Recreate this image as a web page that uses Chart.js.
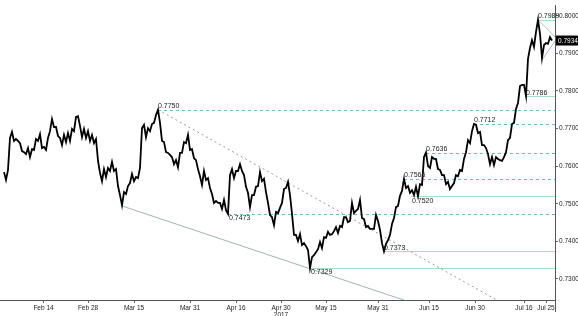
<!DOCTYPE html>
<html><head><meta charset="utf-8">
<script src="https://cdn.jsdelivr.net/npm/chart.js@4/dist/chart.umd.min.js"></script>
<style>html,body{margin:0;padding:0;background:#fff;}#wrap{width:578px;height:316px;}</style>
</head><body><div id="wrap"><canvas id="c" width="578" height="316"></canvas></div>
<script>
// AUD/USD-like price path, one sample every ~half trading day
const prices = [
0.7584,0.7563,0.7590,0.7675,0.7691,0.7667,0.7672,0.7667,0.7661,0.7640,
0.7637,0.7632,0.7648,0.7624,0.7645,0.7643,0.7672,0.7667,0.7685,0.7648,
0.7651,0.7643,0.7675,0.7693,0.7725,0.7704,0.7704,0.7680,0.7675,0.7656,
0.7683,0.7664,0.7688,0.7667,0.7699,0.7693,0.7731,0.7733,0.7707,0.7677,
0.7699,0.7675,0.7693,0.7667,0.7683,0.7661,0.7672,0.7614,0.7582,0.7560,
0.7592,0.7571,0.7595,0.7587,0.7611,0.7587,0.7592,0.7547,0.7523,0.7496,
0.7531,0.7526,0.7547,0.7555,0.7579,0.7560,0.7571,0.7568,0.7595,0.7701,
0.7710,0.7677,0.7701,0.7693,0.7712,0.7715,0.7736,0.7750,0.7715,0.7667,
0.7664,0.7637,0.7635,0.7630,0.7624,0.7605,0.7616,0.7597,0.7635,0.7635,
0.7664,0.7661,0.7683,0.7643,0.7645,0.7621,0.7616,0.7592,0.7573,0.7550,
0.7587,0.7563,0.7568,0.7542,0.7526,0.7502,0.7507,0.7502,0.7502,0.7486,
0.7510,0.7483,0.7473,0.7576,0.7592,0.7568,0.7587,0.7587,0.7605,0.7587,
0.7576,0.7545,0.7529,0.7491,0.7523,0.7523,0.7545,0.7547,0.7584,0.7560,
0.7566,0.7531,0.7502,0.7470,0.7464,0.7443,0.7478,0.7475,0.7489,0.7502,
0.7539,0.7542,0.7558,0.7523,0.7473,0.7417,0.7417,0.7401,0.7419,0.7390,
0.7395,0.7387,0.7377,0.7329,0.7358,0.7363,0.7371,0.7379,0.7398,0.7382,
0.7411,0.7409,0.7425,0.7417,0.7419,0.7427,0.7438,0.7422,0.7441,0.7438,
0.7464,0.7464,0.7451,0.7454,0.7502,0.7475,0.7481,0.7486,0.7510,0.7462,
0.7459,0.7438,0.7441,0.7433,0.7433,0.7433,0.7470,0.7454,0.7430,0.7395,
0.7373,0.7393,0.7403,0.7417,0.7446,0.7462,0.7491,0.7494,0.7521,0.7534,
0.7566,0.7542,0.7547,0.7529,0.7536,0.7523,0.7545,0.7520,0.7552,0.7550,
0.7624,0.7636,0.7600,0.7595,0.7624,0.7619,0.7619,0.7592,0.7590,0.7576,
0.7576,0.7552,0.7558,0.7539,0.7547,0.7555,0.7576,0.7573,0.7590,0.7587,
0.7619,0.7637,0.7669,0.7661,0.7693,0.7712,0.7710,0.7688,0.7691,0.7656,
0.7656,0.7648,0.7632,0.7605,0.7624,0.7603,0.7624,0.7619,0.7616,0.7614,
0.7624,0.7637,0.7669,0.7675,0.7712,0.7715,0.7752,0.7768,0.7813,0.7816,
0.7816,0.7786,0.7885,0.7914,0.7935,0.7917,0.7957,0.7989,0.7952,0.7888,
0.7922,0.7927,0.7925,0.7943,0.7934
];
const lastPrice = 0.7934;

// x-axis date labels and the sample index where each sits
const xTickIdx = [19.75,42,65,93,116,138.5,161,187,212.5,235.5,260,271];
const xTickLabels = ['Feb 14','Feb 28','Mar 15','Mar 31','Apr 16',['Apr 30','2017'],'May 15','May 31','Jun 15','Jun 30','Jul 16','Jul 25'];
const yTicks = [0.73,0.74,0.75,0.76,0.77,0.78,0.79,0.80];

// pivot levels: price and sample index where the level starts
const levelPrices = [0.7750,0.7712,0.7636,0.7566,0.7473,0.7520,0.7373,0.7329,0.7786,0.7989];
const levelFromIdx = [77,235,211,200,112,203.5,190,153,261,267];
const levelDashed = [true,true,true,true,true,false,false,false,false,false];
const levelLabelBelow = [false,false,false,false,true,true,false,true,false,false];

// trend lines: [index, price] pairs
const resistanceLine = [[77,0.7750],[260,0.7203]];
const supportLine = [[59,0.7494],[215,0.7217]];
const triUpper = [[266.5,0.7992],[276,0.7941]];
const triLower = [[269,0.7882],[276,0.7936]];

const FONT = 'Liberation Sans, Arial, sans-serif';

const under = {
  id:'under',
  beforeDatasetsDraw(chart){
    const {ctx, chartArea:a, scales:{x,y}} = chart;
    ctx.save();
    ctx.beginPath(); ctx.rect(a.left,a.top,a.right-a.left,a.bottom-a.top); ctx.clip();
    levelPrices.forEach((p,k)=>{
      const yy = Math.round(y.getPixelForValue(p))+0.5;
      ctx.beginPath();
      ctx.lineWidth = 1;
      if(levelDashed[k]){ ctx.setLineDash([3,3]); ctx.strokeStyle='#62c4a2'; }
      else { ctx.setLineDash([]); ctx.strokeStyle='#a6dcc6'; }
      ctx.moveTo(x.getPixelForValue(levelFromIdx[k]), yy);
      ctx.lineTo(a.right, yy);
      ctx.stroke();
    });
    const seg=(pts,color,dash)=>{
      ctx.beginPath(); ctx.setLineDash(dash); ctx.strokeStyle=color; ctx.lineWidth=1;
      ctx.moveTo(x.getPixelForValue(pts[0][0]), y.getPixelForValue(pts[0][1]));
      ctx.lineTo(x.getPixelForValue(pts[1][0]), y.getPixelForValue(pts[1][1]));
      ctx.stroke();
    };
    seg(resistanceLine,'#9a9a9a',[2,3]);
    seg(supportLine,'#9fb3bd',[]);
    seg(triUpper,'#a9c4cc',[]);
    seg(triLower,'#a9c4cc',[]);
    ctx.restore();
  },
  afterDatasetsDraw(chart){
    const {ctx, chartArea:a, scales:{x,y}} = chart;
    ctx.save();
    ctx.font = '7px '+FONT;
    ctx.fillStyle = '#222';
    ctx.textAlign = 'left';
    levelPrices.forEach((p,k)=>{
      const yy = y.getPixelForValue(p);
      const xx = x.getPixelForValue(levelFromIdx[k]);
      if(levelLabelBelow[k]){ ctx.textBaseline='top'; ctx.fillText(p.toFixed(4), xx+1, yy+1); }
      else { ctx.textBaseline='bottom'; ctx.fillText(p.toFixed(4), xx, yy); }
    });
    // axis line extended below x axis
    ctx.strokeStyle='#555'; ctx.lineWidth=1; ctx.setLineDash([]);
    ctx.beginPath(); ctx.moveTo(a.right+0.5, a.top); ctx.lineTo(a.right+0.5, 312); ctx.stroke();
    // last price tag
    const ly = y.getPixelForValue(lastPrice);
    ctx.font = '6.5px '+FONT;
    ctx.fillStyle='#000';
    ctx.fillRect(a.right+1, ly-5, 578-a.right-1, 10);
    ctx.fillStyle='#fff'; ctx.textBaseline='middle'; ctx.textAlign='left';
    ctx.fillText(lastPrice.toFixed(4), a.right+3, ly+0.5);
    ctx.restore();
  }
};

new Chart(document.getElementById('c'), {
  type:'line',
  data:{ labels: prices.map((_,i)=>i),
    datasets:[{ data: prices.map((v,i)=>({x:i,y:v})), borderColor:'#000', borderWidth:1.8, pointRadius:0, tension:0, fill:false }] },
  options:{
    responsive:false, animation:false, events:[],
    layout:{ padding:{top:5,left:0,right:0,bottom:0} },
    plugins:{ legend:{display:false}, tooltip:{enabled:false} },
    scales:{
      x:{ type:'linear', min:-2, max:275.5,
        afterBuildTicks:s=>{ s.ticks = xTickIdx.map(v=>({value:v})); },
        afterFit:s=>{ s.height=16; },
        ticks:{ autoSkip:false, maxRotation:0, padding:1, font:{size:6.5,family:FONT}, color:'#222',
          callback:(v,i)=>xTickLabels[i] },
        grid:{ drawOnChartArea:false, drawTicks:true, tickLength:3, color:'#666' },
        border:{ display:true, color:'#555' } },
      y:{ position:'right', min:0.72439, max:0.80285,
        afterBuildTicks:s=>{ s.ticks = yTicks.map(v=>({value:v})); },
        afterFit:s=>{ s.width=23; },
        ticks:{ padding:1, font:{size:6.5,family:FONT}, color:'#222', callback:v=>v.toFixed(4) },
        grid:{ drawOnChartArea:false, drawTicks:true, tickLength:3, color:'#666' },
        border:{ display:true, color:'#555' } }
    }
  },
  plugins:[under]
});
</script></body></html>
